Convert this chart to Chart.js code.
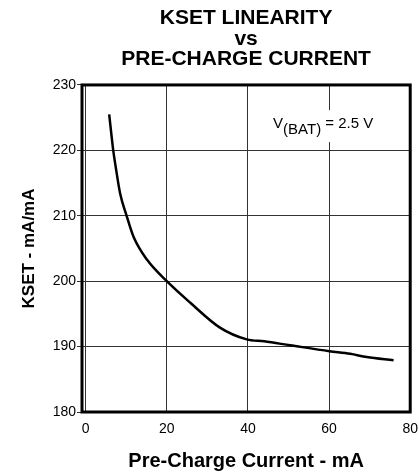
<!DOCTYPE html>
<html><head><meta charset="utf-8">
<script src="https://cdn.jsdelivr.net/npm/chart.js@4.4.0/dist/chart.umd.min.js"></script>
<style>html,body{margin:0;padding:0;background:#fff}#wrap{width:419px;height:475px}</style>
</head><body><div id="wrap"><canvas id="c"></canvas></div>
<script>
const currentMA = [5.8, 6.8, 7.4, 8.5, 10.1, 11.8, 15.1, 20, 25.8, 33.1, 39.7, 44, 50.4, 60.1, 65.2, 69.3, 75.9];
const ksetValues = [225.5, 220, 217.5, 213.4, 210, 206.8, 203.3, 200, 196.7, 192.9, 191.1, 190.8, 190.2, 189.3, 188.9, 188.4, 187.9];
const xTicks = [0, 20, 40, 60, 80];
const yTicks = [180, 190, 200, 210, 220, 230];
const titleLines = ['KSET LINEARITY', 'vs', 'PRE-CHARGE CURRENT'];
const xTitle = 'Pre-Charge Current - mA';
const yTitle = 'KSET - mA/mA';
const noteMain = 'V', noteSub = '(BAT)', noteRest = ' = 2.5 V';
const notePos = {x: 46.2, y: 223.4};

const FF = '"Liberation Sans", Arial, Helvetica, sans-serif';

const framePlugin = {
  id: 'frame',
  beforeDatasetsDraw(chart) {
    const {ctx, chartArea: a, scales} = chart;
    ctx.save();
    const x = scales.x.getPixelForValue(notePos.x);
    const y = scales.y.getPixelForValue(notePos.y);
    ctx.font = '15px ' + FF;
    const w1 = ctx.measureText(noteMain).width;
    const w2 = ctx.measureText(noteSub).width;
    const w3 = ctx.measureText(noteRest).width;
    ctx.fillStyle = '#fff';
    ctx.fillRect(x - 3, y - 18, w1 + w2 + w3 + 6, 32);
    ctx.fillStyle = '#000';
    ctx.textBaseline = 'alphabetic';
    ctx.fillText(noteMain, x, y);
    ctx.fillText(noteSub, x + w1, y + 6);
    ctx.fillText(noteRest, x + w1 + w2, y);
    ctx.lineWidth = 3;
    ctx.strokeStyle = '#000';
    ctx.strokeRect(a.left, a.top, a.width, a.height);
    ctx.restore();
  }
};

new Chart(document.getElementById('c'), {
  type: 'scatter',
  data: {
    datasets: [{
      data: currentMA.map((v, i) => ({x: v, y: ksetValues[i]})),
      showLine: true,
      borderColor: '#000',
      borderWidth: 2.5,
      pointRadius: 0,
      cubicInterpolationMode: 'monotone',
      fill: false
    }]
  },
  options: {
    responsive: true,
    maintainAspectRatio: false,
    animation: false,
    layout: {padding: {left: 0, right: 0, top: 0, bottom: 0}},
    plugins: {
      legend: {display: false},
      tooltip: {enabled: false},
      title: {
        display: true,
        fullSize: false,
        text: titleLines,
        color: '#000',
        font: {family: FF, size: 21, weight: 'bold', lineHeight: 20.75 / 21},
        padding: {top: 7.6, bottom: 15.1}
      }
    },
    scales: {
      x: {
        type: 'linear',
        min: -0.9,
        max: 80,
        afterBuildTicks: s => { s.ticks = xTicks.map(v => ({value: v})); },
        afterFit: s => { s.height = 63; },
        grid: {color: '#333', lineWidth: 1, drawTicks: true, tickLength: 8, tickColor: 'rgba(0,0,0,0)'},
        border: {display: false},
        ticks: {color: '#000', font: {family: FF, size: 14}, padding: 1, maxRotation: 0},
        title: {display: true, text: xTitle, color: '#000',
          font: {family: FF, size: 20, weight: 'bold'}, padding: {top: 0, bottom: 1.2}}
      },
      y: {
        min: 180,
        max: 230,
        afterBuildTicks: s => { s.ticks = yTicks.map(v => ({value: v})); },
        afterFit: s => { s.width = 82; },
        grid: {color: '#333', lineWidth: 1, tickLength: 5},
        border: {display: false},
        ticks: {color: '#000', font: {family: FF, size: 14}, padding: 1},
        title: {display: true, text: yTitle, color: '#000',
          font: {family: FF, size: 17, weight: 'bold'}, padding: {top: 19, bottom: 0}}
      }
    }
  },
  plugins: [framePlugin]
});
</script>
</body></html>
